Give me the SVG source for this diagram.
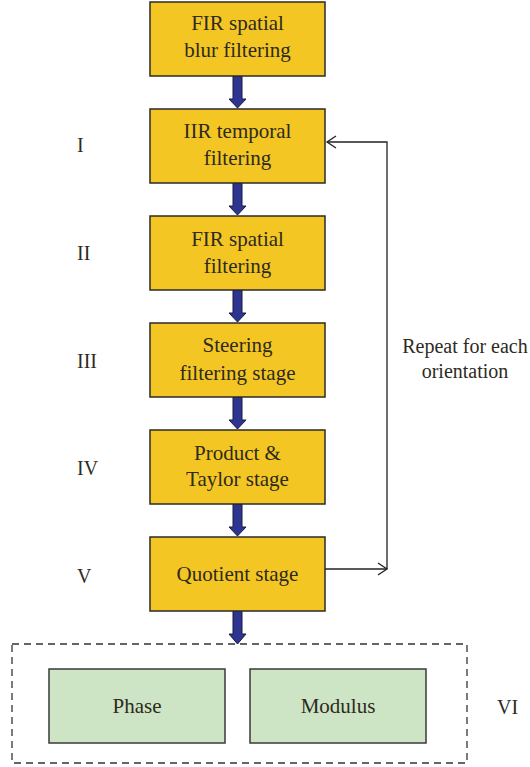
<svg xmlns="http://www.w3.org/2000/svg" width="530" height="767" viewBox="0 0 530 767">
<style>
.y{fill:#f3c623;stroke:#2a2a2a;stroke-width:1.5}
.g{fill:#cde5c4;stroke:#3a3a3a;stroke-width:1.5}
.ar{fill:#2e3590;stroke:#1a1a40;stroke-width:1}
.ln{fill:none;stroke:#222;stroke-width:1.3}
.lb{font-size:20px;text-anchor:start}
</style>
<defs>
<marker id="chev" markerWidth="12" markerHeight="14" refX="10" refY="7" orient="auto" markerUnits="userSpaceOnUse">
<path d="M1,1 L10,7 L1,13" fill="none" stroke="#222" stroke-width="1.3"/>
</marker>
</defs>
<rect x="0" y="0" width="530" height="767" fill="#fff"/>
<g id="connectors">
<polygon class="ar" points="233,76 242,76 242,99 246,99 237.5,108 229,99 233,99"/>
<polygon class="ar" points="233,183 242,183 242,206 246,206 237.5,215 229,206 233,206"/>
<polygon class="ar" points="233,290 242,290 242,313 246,313 237.5,322 229,313 233,313"/>
<polygon class="ar" points="233,397 242,397 242,420 246,420 237.5,429 229,420 233,420"/>
<polygon class="ar" points="233,504 242,504 242,527 246,527 237.5,536 229,527 233,527"/>
<polygon class="ar" points="233,611 242,611 242,634 246,634 237.5,644 229,634 233,634"/>
<polyline class="ln" points="325,569 387,569" marker-end="url(#chev)"/>
<polyline class="ln" points="387,569 387,142 327,142" marker-end="url(#chev)"/>
</g>
<g font-family="'Liberation Serif', 'DejaVu Serif', serif" font-size="21" fill="#2e2a1e" text-anchor="middle">
<g id="n1"><rect class="y" x="150" y="2" width="175" height="74"/><text x="237.5" y="30">FIR spatial</text><text x="237.5" y="57">blur filtering</text></g>
<g id="n2"><rect class="y" x="150" y="109" width="175" height="74"/><text x="237.5" y="138">IIR temporal</text><text x="237.5" y="165">filtering</text></g>
<g id="n3"><rect class="y" x="150" y="216" width="175" height="74"/><text x="237.5" y="246">FIR spatial</text><text x="237.5" y="273">filtering</text></g>
<g id="n4"><rect class="y" x="150" y="323" width="175" height="74"/><text x="237.5" y="352">Steering</text><text x="237.5" y="380">filtering stage</text></g>
<g id="n5"><rect class="y" x="150" y="430" width="175" height="74"/><text x="237.5" y="460">Product &amp;</text><text x="237.5" y="486">Taylor stage</text></g>
<g id="n6"><rect class="y" x="150" y="537" width="175" height="74"/><text x="237.5" y="581">Quotient stage</text></g>
<g id="group6"><rect x="12" y="644" width="455" height="119" fill="none" stroke="#333" stroke-width="1.3" stroke-dasharray="7,5"/></g>
<g id="phase"><rect class="g" x="49" y="669" width="176" height="74"/><text x="137" y="713">Phase</text></g>
<g id="modulus"><rect class="g" x="250" y="669" width="176" height="74"/><text x="338" y="713">Modulus</text></g>
<g id="labels">
<text class="lb" x="77" y="152">I</text>
<text class="lb" x="77" y="260">II</text>
<text class="lb" x="77" y="368">III</text>
<text class="lb" x="77" y="475">IV</text>
<text class="lb" x="77" y="583">V</text>
<text class="lb" x="497" y="714">VI</text>
<text font-size="20" x="465" y="353">Repeat for each</text>
<text font-size="20" x="465" y="378">orientation</text>
</g>
</g>
</svg>
